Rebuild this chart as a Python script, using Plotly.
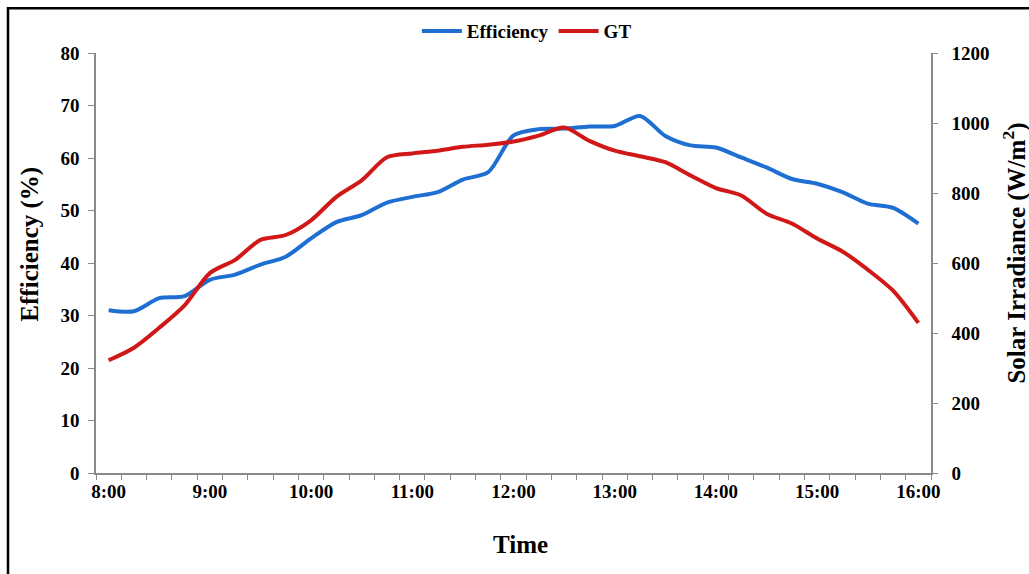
import plotly.graph_objects as go

times = ["8:00","8:15","8:30","8:45","9:00","9:15","9:30","9:45",
         "10:00","10:15","10:30","10:45","11:00","11:15","11:30","11:45",
         "12:00","12:15","12:30","12:45","13:00","13:15","13:30","13:45",
         "14:00","14:15","14:30","14:45","15:00","15:15","15:30","15:45","16:00"]

efficiency = [31.0, 30.8, 33.3, 33.7, 36.8, 37.8, 39.7, 41.2,
              44.7, 47.8, 49.1, 51.5, 52.6, 53.5, 55.9, 57.3,
              64.3, 65.5, 65.6, 66.0, 66.1, 68.0, 64.2, 62.4,
              62.0, 60.1, 58.2, 56.0, 55.1, 53.5, 51.3, 50.5, 47.5]

gt = [322, 358, 415, 479, 571, 609, 666, 680,
      722, 789, 836, 902, 913, 921, 932, 938,
      947, 964, 987, 949, 921, 905, 888, 850,
      814, 793, 741, 713, 670, 633, 581, 521, 429]

label_step = 4

FONT = "Liberation Serif"
AXIS_COLOR = "#8a8a8a"

n = len(times)
tick_text = [t if i % label_step == 0 else "" for i, t in enumerate(times)]

fig = go.Figure()
fig.add_trace(go.Scatter(
    x=times, y=efficiency, name="Efficiency", mode="lines",
    line=dict(color="#1f6fd3", width=4, shape="spline", smoothing=0.8),
    yaxis="y"))
fig.add_trace(go.Scatter(
    x=times, y=gt, name="GT", mode="lines",
    line=dict(color="#d11818", width=4, shape="spline", smoothing=0.8),
    yaxis="y2"))

tick_font = dict(family=FONT, size=19, color="black", weight="bold")

fig.update_layout(
    width=1029, height=574,
    margin=dict(l=96, r=98, t=50, b=101),
    paper_bgcolor="white", plot_bgcolor="white",
    showlegend=True,
    legend=dict(orientation="h", x=0.516, xanchor="center", y=1.052, yanchor="middle",
                font=dict(family=FONT, size=19, color="black", weight="bold"),
                bgcolor="rgba(0,0,0,0)", itemwidth=40, tracegroupgap=0),
    xaxis=dict(
        type="category", range=[-0.5, n - 0.5],
        tickmode="array", tickvals=times, ticktext=tick_text,
        tickson="boundaries",
        ticks="outside", ticklen=5, tickcolor=AXIS_COLOR, tickwidth=1.2,
        tickfont=tick_font, tickangle=0,
        showline=True, linecolor=AXIS_COLOR, linewidth=1.5,
        showgrid=False, zeroline=False,
    ),
    yaxis=dict(
        range=[0, 80], dtick=10, tick0=0,
        ticks="outside", ticklen=6, tickcolor=AXIS_COLOR, tickwidth=1.2,
        tickfont=tick_font, ticklabelstandoff=5,
        showline=True, linecolor=AXIS_COLOR, linewidth=1.5,
        showgrid=False, zeroline=False,
    ),
    yaxis2=dict(
        range=[0, 1200], dtick=200, tick0=0, overlaying="y", side="right",
        ticks="outside", ticklen=5, tickcolor=AXIS_COLOR, tickwidth=1.2,
        tickfont=tick_font, ticklabelstandoff=10,
        showline=True, linecolor=AXIS_COLOR, linewidth=1.5,
        showgrid=False, zeroline=False,
    ),
    annotations=[
        dict(text="Efficiency (%)", textangle=-90, xref="paper", yref="paper",
             x=(30 - 96) / 835, y=(473 - 243) / 423, xanchor="center", yanchor="middle",
             showarrow=False, font=dict(family=FONT, size=25, color="black", weight="bold")),
        dict(text="Solar Irradiance (W/m<sup>2</sup>)", textangle=-90, xref="paper", yref="paper",
             x=(1015 - 96) / 835, y=(473 - 252) / 423, xanchor="center", yanchor="middle",
             showarrow=False, font=dict(family=FONT, size=25, color="black", weight="bold")),
        dict(text="Time", xref="paper", yref="paper",
             x=(520 - 96) / 835, y=(473 - 545) / 423, xanchor="center", yanchor="middle",
             showarrow=False, font=dict(family=FONT, size=25, color="black", weight="bold")),
    ],
    shapes=[
        dict(type="path", xref="paper", yref="paper",
             path="M {l},{b} L {l},{t} L {r},{t}".format(
                 l=(8 - 96) / 835, b=(473 - 590) / 423, t=(473 - 5) / 423, r=(1040 - 96) / 835),
             line=dict(color="black", width=2.5)),
    ],
)

fig.write_html("out.html")
